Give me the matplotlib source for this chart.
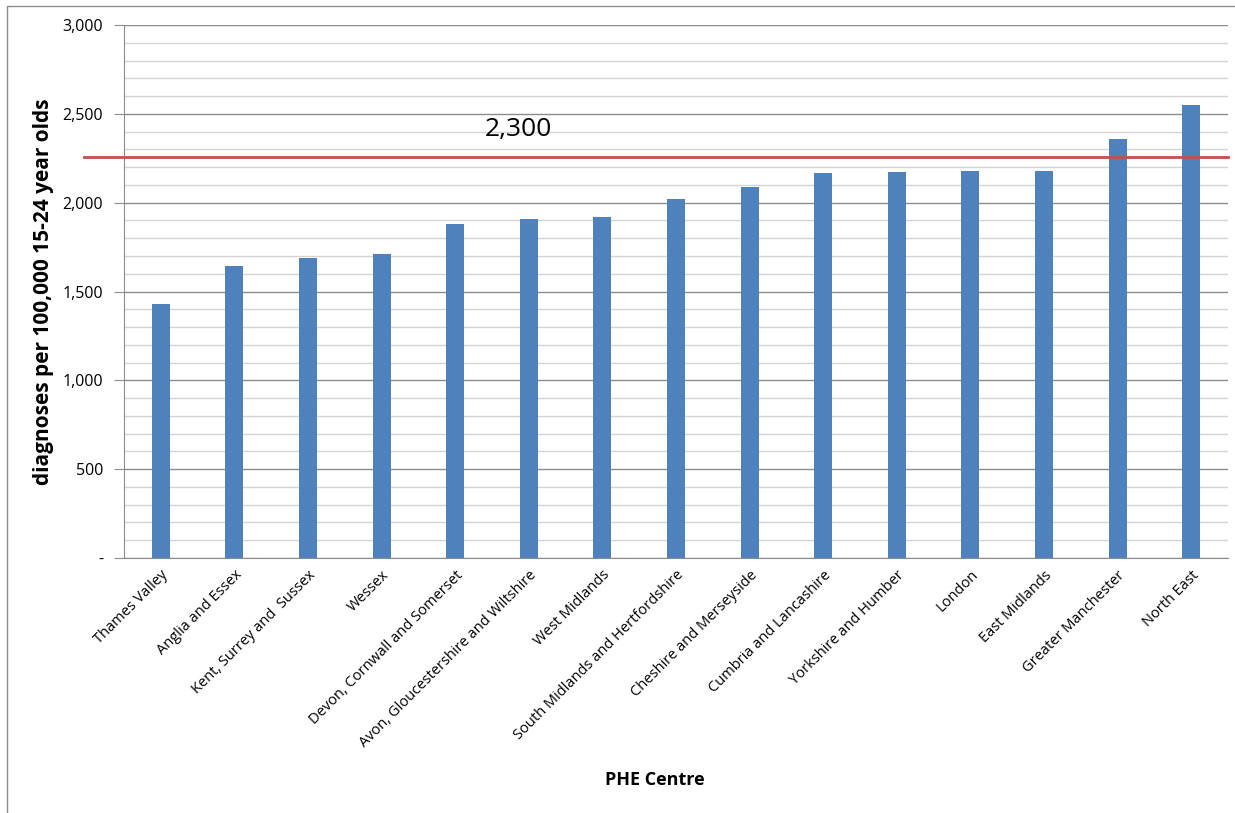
import matplotlib.pyplot as plt
import numpy as np
from matplotlib.ticker import MultipleLocator, FuncFormatter
from matplotlib.patches import Rectangle

# PHE centres and diagnosis rates
centres = ['Thames Valley', 'Anglia and Essex', 'Kent, Surrey and  Sussex', 'Wessex',
           'Devon, Cornwall and Somerset', 'Avon, Gloucestershire and Wiltshire',
           'West Midlands', 'South Midlands and Hertfordshire', 'Cheshire and Merseyside',
           'Cumbria and Lancashire', 'Yorkshire and Humber', 'London', 'East Midlands',
           'Greater Manchester', 'North East']
rates = [1430, 1643, 1689, 1711, 1880, 1908, 1919, 2021, 2088, 2167, 2173, 2178, 2178, 2358, 2550]
threshold = 2257
threshold_label = '2,300'

plt.rcParams['font.family'] = ['Open Sans', 'DejaVu Sans']

fig = plt.figure(figsize=(12.35, 8.13), dpi=100)
ax = fig.add_axes([0.1004, 0.3137, 0.894, 0.6555])

x = np.arange(len(centres))
ax.bar(x, rates, width=0.245, color='#4f81bd', zorder=3)

ax.set_xlim(-0.5, len(centres) - 0.5)
ax.set_ylim(0, 3000)

# grid lines: light every 100, darker every 500
ax.yaxis.set_major_locator(MultipleLocator(500))
ax.yaxis.set_minor_locator(MultipleLocator(100))
ax.grid(axis='y', which='major', color='#8c8c8c', linewidth=1.0, zorder=0)
ax.grid(axis='y', which='minor', color='#d4d4d4', linewidth=1.0, zorder=0)
ax.yaxis.set_major_formatter(FuncFormatter(lambda v, p: '-' if v == 0 else f'{int(v):,}'))

ax.axhline(threshold, xmin=-0.036, xmax=1.0, color='#c0504d', linewidth=2, clip_on=False, zorder=4)
ax.text(4.4, 2410, threshold_label, fontsize=19, ha='left', va='center', color='black')

for s in ['top', 'right']:
    ax.spines[s].set_visible(False)
ax.spines['left'].set_color('#8c8c8c')
ax.spines['bottom'].set_color('#8c8c8c')

ax.tick_params(axis='y', which='major', length=7, color='#8c8c8c', labelsize=11.5, pad=8)
ax.tick_params(axis='y', which='minor', length=0)
ax.tick_params(axis='x', length=0, labelsize=10.5, pad=7)
ax.set_xticks(x)
ax.set_xticklabels(centres, rotation=45, ha='right', rotation_mode='anchor')

ax.set_ylabel('diagnoses per 100,000 15-24 year olds', fontsize=15, fontweight='bold', labelpad=6)
fig.text(0.5304, 0.0405, 'PHE Centre', fontsize=13, fontweight='bold', ha='center', va='center')

# chart area border
fig.patches.append(Rectangle((7 / 1235, -0.01), 1.0, 1 - 6 / 813 + 0.01, transform=fig.transFigure,
                             fill=False, edgecolor='#8c8c8c', linewidth=1))

fig.savefig('out.png', dpi=100)
